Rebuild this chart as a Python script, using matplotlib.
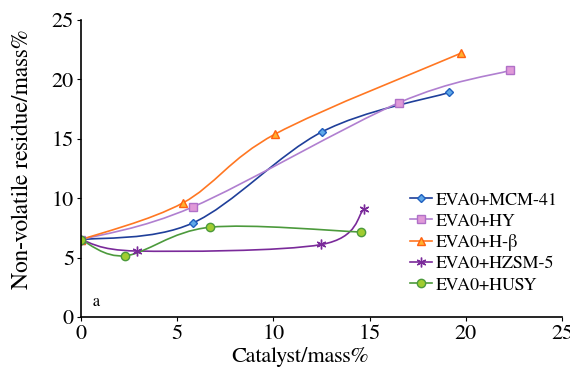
import numpy as np
import matplotlib
matplotlib.use('Agg')
import matplotlib.pyplot as plt
from matplotlib.path import Path
from matplotlib.patches import PathPatch

plt.rcParams['font.family'] = ['FreeSerif', 'STIXGeneral', 'DejaVu Serif']

labels = ['EVA0+MCM-41', 'EVA0+HY', 'EVA0+H-β', 'EVA0+HZSM-5', 'EVA0+HUSY']
mcm_x = [0, 5.8, 12.55, 19.15]
mcm_y = [6.5, 7.9, 15.6, 18.9]
hy_x = [0, 5.8, 16.55, 22.3]
hy_y = [6.5, 9.25, 18.05, 20.75]
hb_x = [0, 5.3, 10.1, 19.75]
hb_y = [6.5, 9.6, 15.4, 22.2]
hz_x = [0, 2.9, 12.5, 14.7]
hz_y = [6.5, 5.55, 6.1, 9.05]
husy_x = [0, 2.3, 6.7, 14.55]
husy_y = [6.5, 5.15, 7.55, 7.15]

series = [
    (mcm_x, mcm_y, '#1f3f9a', 'D', '#5fa8e8', '#2060c0', 4),
    (hy_x, hy_y, '#b07fd0', 's', '#e09ad8', '#b070c8', 6),
    (hb_x, hb_y, '#ff7722', '^', '#ffb030', '#ff6010', 6),
    (hz_x, hz_y, '#7a2a9a', (6, 2, 0), '#7a2a9a', '#7a2a9a', 7),
    (husy_x, husy_y, '#4c9a3c', 'o', '#a0cc30', '#4c9a3c', 6),
]


def smooth_path(x, y):
    p = np.column_stack([x, y]).astype(float)
    pts = np.vstack([p[0], p, p[-1]])
    verts = [p[0]]
    codes = [Path.MOVETO]
    for i in range(1, len(pts) - 2):
        c1 = pts[i] + (pts[i + 1] - pts[i - 1]) / 6
        c2 = pts[i + 1] - (pts[i + 2] - pts[i]) / 6
        verts += [c1, c2, pts[i + 1]]
        codes += [Path.CURVE4] * 3
    return Path(verts, codes)


fig = plt.figure(figsize=(5.7, 3.69), dpi=100)
ax = fig.add_axes([0.142, 0.141, 0.844, 0.805])

for (x, y, lc, mk, mf, me, ms), lab in zip(series, labels):
    ax.add_patch(PathPatch(smooth_path(x, y), facecolor='none', edgecolor=lc, lw=1.2))
    ax.plot(x, y, linestyle='none', marker=mk, ms=ms, mfc=mf, mec=me, mew=1)
    ax.plot([], [], color=lc, lw=1.2, marker=mk, ms=ms, mfc=mf, mec=me, label=lab)

ax.set_xlim(0, 25)
ax.set_ylim(0, 25)
ax.set_xticks(range(0, 26, 5))
ax.set_yticks(range(0, 26, 5))
ax.spines['top'].set_visible(False)
ax.spines['right'].set_visible(False)
ax.spines['left'].set_linewidth(1.2)
ax.spines['bottom'].set_linewidth(1.2)
ax.tick_params(labelsize=16, direction='out', length=3, pad=2)
ax.set_xlabel('Catalyst/mass%', fontsize=16)
ax.xaxis.set_label_coords(0.455, -0.1)
ax.set_ylabel('Non-volatile residue/mass%', fontsize=17)
ax.yaxis.set_label_coords(-0.1, 0.53)
ax.text(0.6, 0.9, 'a', fontsize=12)

ax.legend(loc='center left', bbox_to_anchor=(0.685, 0.25), frameon=False,
          fontsize=13, handlelength=1.2, handletextpad=0.2, labelspacing=0.25,
          borderaxespad=0, borderpad=0)

fig.savefig('out.png', dpi=100)
